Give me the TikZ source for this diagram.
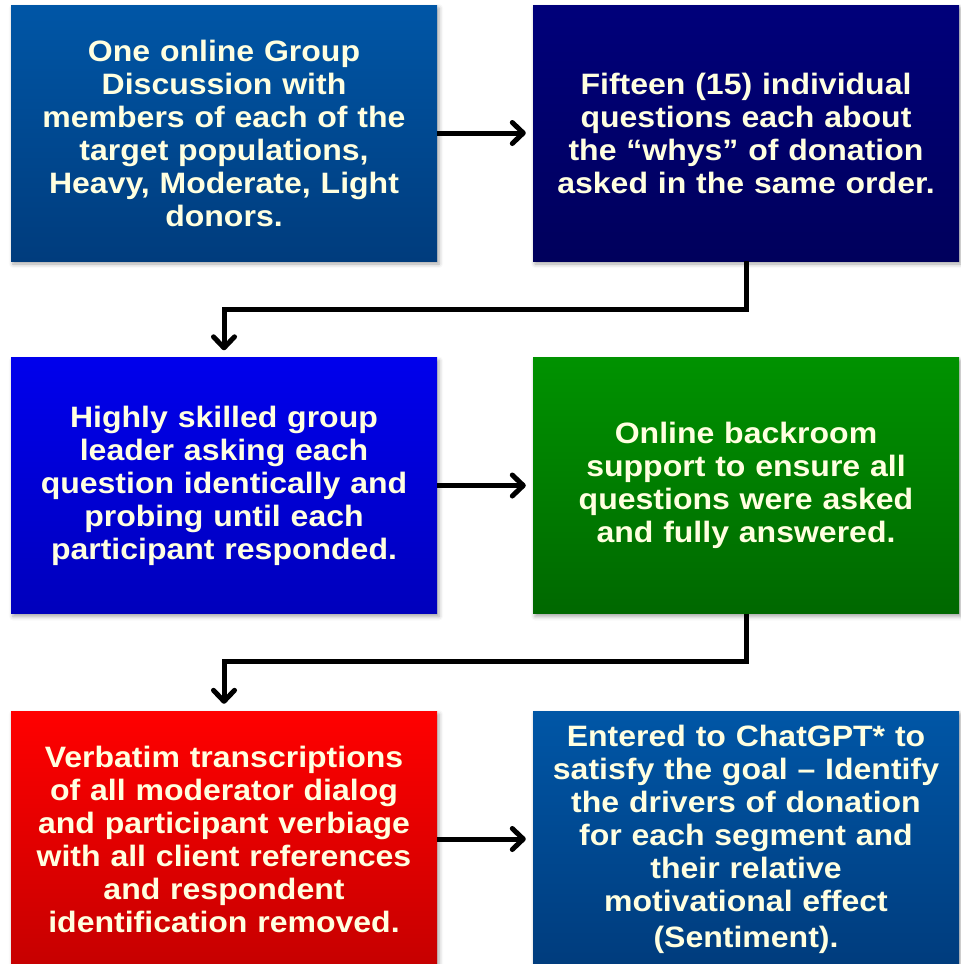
\documentclass[tikz,border=0pt]{standalone}
\usepackage{fontspec}
\setmainfont{Liberation Sans}[FakeStretch=1.085]
\usetikzlibrary{arrows.meta,shadows.blur}
\definecolor{aTop}{RGB}{0,86,166}
\definecolor{aBot}{RGB}{0,60,125}
\definecolor{nTop}{RGB}{0,0,122}
\definecolor{nBot}{RGB}{0,0,92}
\definecolor{bTop}{RGB}{0,0,236}
\definecolor{bBot}{RGB}{0,0,188}
\definecolor{gTop}{RGB}{0,146,0}
\definecolor{gBot}{RGB}{0,104,0}
\definecolor{rTop}{RGB}{255,0,0}
\definecolor{rBot}{RGB}{198,0,0}
\definecolor{cream}{RGB}{255,255,224}
\tikzset{
  stepbox/.style={rectangle, minimum width=426pt, minimum height=256pt,
    inner sep=0pt, text width=420pt, align=center, text=cream,
    font=\bfseries\fontsize{29.5}{33}\selectfont,
    blur shadow={shadow xshift=2pt, shadow yshift=-3pt, shadow blur radius=4pt, shadow opacity=35}},
  link/.style={line width=5pt, -{Straight Barb[length=11pt,width=21pt,line cap=round,line join=round]}, shorten >=7pt}
}
\begin{document}
\begin{tikzpicture}[x=1pt,y=-1pt]
\useasboundingbox (0,0) rectangle (961,964);
\node[stepbox, top color=aTop, bottom color=aBot] (b1) at (224,133)
  {One online Group\\Discussion with\\members of each of the\\target populations,\\Heavy, Moderate, Light\\donors.};
\node[stepbox, top color=nTop, bottom color=nBot] (b2) at (746,133)
  {Fifteen (15) individual\\questions each about\\the “whys” of donation\\asked in the same order.};
\node[stepbox, top color=bTop, bottom color=bBot] (b3) at (224,485.5)
  {Highly skilled group\\leader asking each\\question identically and\\probing until each\\participant responded.};
\node[stepbox, top color=gTop, bottom color=gBot] (b4) at (746,485.5)
  {Online backroom\\support to ensure all\\questions were asked\\and fully answered.};
\node[stepbox, top color=rTop, bottom color=rBot] (b5) at (224,839)
  {Verbatim transcriptions\\of all moderator dialog\\and participant verbiage\\with all client references\\and respondent\\identification removed.};
\node[stepbox, top color=aTop, bottom color=aBot] (b6) at (746,839)
  {Entered to ChatGPT* to\\satisfy the goal – Identify\\the drivers of donation\\for each segment and\\their relative\\motivational effect\\[3pt](Sentiment).};
\coordinate (e1) at (746,309);
\coordinate (e2) at (746,661);
\draw[link] (b1.east) -- (b1.east -| b2.west);
\draw[link] (b2.south) -- (e1) -| (b3.north);
\draw[link] (b3.east) -- (b3.east -| b4.west);
\draw[link] (b4.south) -- (e2) -| (b5.north);
\draw[link] (b5.east) -- (b5.east -| b6.west);
\end{tikzpicture}
\end{document}
